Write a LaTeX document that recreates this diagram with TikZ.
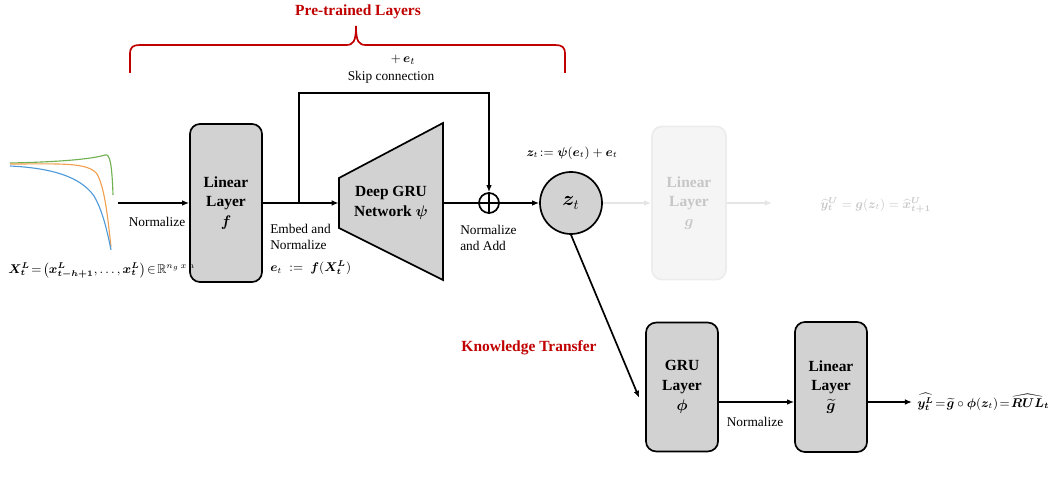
\documentclass[tikz,border=0pt]{standalone}
\usepackage{amsmath,amssymb,bm}
\usepackage{fontspec}
\setmainfont{Liberation Serif}
\usetikzlibrary{positioning,arrows.meta,calc}
\definecolor{boxgray}{RGB}{210,210,210}
\definecolor{darkred}{RGB}{192,0,0}
\definecolor{curveblue}{RGB}{79,155,217}
\definecolor{curveorange}{RGB}{240,160,80}
\definecolor{curvegreen}{RGB}{112,176,80}

\begin{document}
\begin{tikzpicture}[x=0.025cm,y=-0.025cm,
  layer/.style={draw,line width=1.2pt,rounded corners=0.25cm,fill=boxgray,minimum width=1.8cm,align=center,font=\fontsize{11}{14}\selectfont\bfseries},
  faint/.style={draw=gray!15,fill=gray!8,text=gray!45},
  conn/.style={line width=1.2pt,-{Latex[length=5pt,width=4pt]}},
  faintconn/.style={conn,draw=gray!20},
  lbl/.style={font=\fontsize{9.5}{11.5}\selectfont,align=left,inner sep=0pt},
  formula/.style={font=\fontsize{9}{11}\selectfont,inner sep=0pt},
  redtitle/.style={font=\fontsize{11}{13}\selectfont\bfseries,text=darkred,inner sep=0pt}]
\useasboundingbox (0,0) rectangle (1059,484);

% input signals
\draw[curvegreen,line width=0.8pt] (10,163) .. controls (60,162) and (92,159) .. (105,155) .. controls (110,153) and (112,165) .. (113,195);
\draw[curveorange,line width=0.8pt] (10,164) .. controls (60,164) and (88,162) .. (97,174) .. controls (105,188) and (108,220) .. (111,247);
\draw[curveblue,line width=0.8pt] (10,166) .. controls (50,168) and (80,176) .. (94,196) .. controls (103,211) and (108,235) .. (111,250);

% layers
\node[layer,minimum height=3.95cm] (f) at (226,203) {Linear\\Layer\\$\bm f$};
\draw[line width=1.2pt,fill=boxgray] (339,178) -- (443,123) -- (443,280) -- (339,228) -- cycle;
\node[minimum width=2.6cm,minimum height=3.9cm,inner sep=0pt,align=center,font=\fontsize{11}{14}\selectfont\bfseries] (deep) at (391,203) {Deep GRU\\Network $\bm\psi$};
\node[draw,circle,line width=1.2pt,minimum size=0.5cm,inner sep=0pt] (add) at (489,203) {};
\draw[line width=1pt] (add.north) -- (add.south) (add.west) -- (add.east);
\node[draw,circle,fill=boxgray,line width=1.2pt,minimum size=1.55cm,font=\Large] (z) at (571,203) {$\bm z_t$};
\node[layer,faint,minimum width=1.85cm,minimum height=3.83cm] (g) at (689,203) {Linear\\Layer\\$\bm g$};
\node[layer,minimum height=3.22cm] (phi) at (682,387) {GRU\\Layer\\$\bm\phi$};
\node[layer,minimum height=3.25cm] (gt) at (831,387) {Linear\\Layer\\$\widetilde{\bm g}$};

% connectors
\coordinate (xin) at (118,203);
\coordinate (split) at (299,203);
\coordinate (skip) at (489,93);
\coordinate (gout) at (772,203);
\coordinate (yout) at (912,402);
\draw[conn] (xin) -- (f.west);
\draw[conn] (f.east) -- (deep.west);
\draw[conn] (split) |- (skip) -- (add.north);
\draw[line width=1.2pt] (deep.east) -- (add.west);
\draw[conn] (add.east) -- (z.west);
\draw[faintconn] (z.east) -- (g.west);
\draw[faintconn] (g.east) -- (gout);
\draw[conn] (z.south) -- ([xshift=-0.15cm,yshift=-0.27cm]phi.west);
\draw[conn] ([yshift=-0.375cm]phi.east) -- ([yshift=-0.375cm]gt.west);
\draw[conn] ([yshift=-0.375cm]gt.east) -- (yout);

% brace
\draw[darkred,line width=1.2pt] (130,73) -- (130,54) .. controls (130,47) and (133,45) .. (140,45) -- (346,45) .. controls (353,45) and (356,42) .. (356,26) .. controls (356,42) and (359,45) .. (366,45) -- (555,45) .. controls (562,45) and (565,47) .. (565,54) -- (565,73);

% labels
\node[redtitle] (pre) at (358,12) {Pre-trained Layers};
\node[redtitle] (kt) at (529,348) {Knowledge Transfer};
\node[lbl] (plus) at (403,60) {$+\,\bm e_t$};
\node[lbl] (skiplbl) at (391,77) {Skip connection};
\node[lbl] (norm1) at (157,222) {Normalize};
\node[formula,anchor=west] (xdef) at (8,270) {$\bm X^{\bm L}_{\bm t}\!=\!\bigl(\bm x^{\bm L}_{\bm{t-h+1}},\dots,\bm x^{\bm L}_{\bm t}\bigr)\!\in\!\mathbb{R}^{n_g\,x\,h}$};
\node[lbl,anchor=west] (embed) at (270,237) {Embed and\\Normalize};
\node[formula,anchor=west] (edef) at (270,268) {$\bm e_t \;:=\; \bm f(\bm X^{\bm L}_{\bm t})$};
\node[lbl,anchor=west] (addlbl) at (460,238) {Normalize\\and Add};
\node[formula] (zdef) at (572,153) {$\bm z_t\!:=\bm\psi(\bm e_t)+\bm e_t$};
\node[formula,anchor=west,text=gray!45] (ydefu) at (820,205) {$\widehat{\bm y}^{\bm U}_{\bm t} = \bm g(\bm z_t) = \widehat{\bm x}^{\bm U}_{\bm{t+1}}$};
\node[lbl] (norm2) at (755,422) {Normalize};
\node[formula,anchor=west] (ydef) at (917,402) {$\widehat{\bm y^{\bm L}_{\bm t}}\!=\!\widetilde{\bm g}\circ\bm\phi(\bm z_t)\!=\!\widehat{\bm{RUL}}_{\bm t}$};
\end{tikzpicture}
\end{document}
